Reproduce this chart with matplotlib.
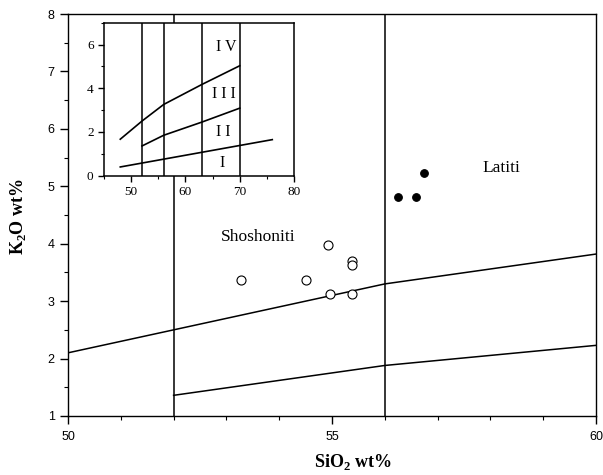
import matplotlib
matplotlib.use("Agg")
import matplotlib.pyplot as plt
from matplotlib.ticker import MultipleLocator

plt.rcParams['mathtext.fontset'] = 'custom'
plt.rcParams['mathtext.rm'] = 'Liberation Serif'
plt.rcParams['mathtext.bf'] = 'Liberation Serif:bold'

# ---- data ----
open_sio2 = [53.27, 54.50, 54.92, 54.97, 55.38, 55.38, 55.37]
open_k2o = [3.37, 3.37, 3.98, 3.12, 3.70, 3.63, 3.12]
filled_sio2 = [56.25, 56.60, 56.74]
filled_k2o = [4.82, 4.82, 5.24]

upper_x = [50, 56, 60]
upper_y = [2.10, 3.30, 3.82]
lower_x = [52, 56, 60]
lower_y = [1.36, 1.88, 2.23]
vlines_main = [52, 56]

inset_I_x = [48, 76]
inset_I_y = [0.40, 1.65]
inset_II_x = [52, 56, 63, 70]
inset_II_y = [1.36, 1.85, 2.45, 3.09]
inset_III_x = [48, 52, 56, 63, 70]
inset_III_y = [1.67, 2.50, 3.26, 4.17, 5.03]
inset_vlines = [52, 56, 63, 70]
inset_labels = ["I V", "I I I", "I I", "I"]
inset_label_x = [67.5, 67.0, 67.0, 66.7]
inset_label_y = [5.87, 3.75, 2.00, 0.59]

fig = plt.figure(figsize=(6.03, 4.75), dpi=100)
ax = fig.add_axes([68/603, 1-416/475, (596-68)/603, (416-14)/475])

lc = 'black'
ax.plot(upper_x, upper_y, color=lc, lw=1.1)
ax.plot(lower_x, lower_y, color=lc, lw=1.1)
for v in vlines_main:
    ax.axvline(v, color=lc, lw=1.1)

ax.plot(open_sio2, open_k2o, 'o', ms=6.5, mfc='white', mec='black', mew=0.8, zorder=5)
ax.plot(filled_sio2, filled_k2o, 'o', ms=5.5, mfc='black', mec='black', mew=0.8, zorder=5)

ax.text(53.6, 4.12, "Shoshoniti", family='Liberation Serif', fontsize=12.5, ha='center', va='center')
ax.text(58.2, 5.32, "Latiti", family='Liberation Serif', fontsize=12.5, ha='center', va='center')

ax.set_xlim(50, 60)
ax.set_ylim(1, 8)
ax.set_xticks([50, 55, 60])
ax.set_yticks(range(1, 9))
ax.xaxis.set_minor_locator(MultipleLocator(1))
ax.yaxis.set_minor_locator(MultipleLocator(0.5))
ax.tick_params(which='major', direction='out', length=6, width=1.0, labelsize=9)
ax.tick_params(which='minor', direction='out', length=3, width=0.8)
for lab in ax.get_xticklabels() + ax.get_yticklabels():
    lab.set_family('Liberation Sans')
ax.tick_params(axis='x', pad=5)
for s in ax.spines.values():
    s.set_linewidth(1.0)

fig.text(353/603, 1-462/475, r"SiO$_\mathbf{2}$ wt%", family='Liberation Serif',
         fontweight='bold', fontsize=13, ha='center', va='center')
fig.text(18/603, 1-217/475, r"K$_\mathbf{2}$O wt%", family='Liberation Serif',
         fontweight='bold', fontsize=13, ha='center', va='center', rotation=90)

# ---- inset ----
ins = fig.add_axes([104/603, 1-175.7/475, (294-104)/603, (175.7-22.7)/475])
ins.set_facecolor('white')
ins.plot(inset_I_x, inset_I_y, color=lc, lw=1.2)
ins.plot(inset_II_x, inset_II_y, color=lc, lw=1.2)
ins.plot(inset_III_x, inset_III_y, color=lc, lw=1.2)
for v in inset_vlines:
    ins.axvline(v, color=lc, lw=1.1)
for t, x, y in zip(inset_labels, inset_label_x, inset_label_y):
    ins.text(x, y, t, family='Liberation Serif', fontsize=11.5, ha='center', va='center')
ins.set_xlim(45, 80)
ins.set_ylim(0, 7)
ins.set_xticks([50, 60, 70, 80])
ins.set_yticks([0, 2, 4, 6])
ins.xaxis.set_minor_locator(MultipleLocator(5))
ins.yaxis.set_minor_locator(MultipleLocator(1))
ins.tick_params(which='major', direction='out', length=4, width=1.0, labelsize=9.5)
ins.tick_params(which='minor', direction='out', length=2.5, width=0.8)
for lab in ins.get_xticklabels() + ins.get_yticklabels():
    lab.set_family('Liberation Serif')
for s in ins.spines.values():
    s.set_linewidth(1.1)

fig.savefig("out.png", dpi=100)
